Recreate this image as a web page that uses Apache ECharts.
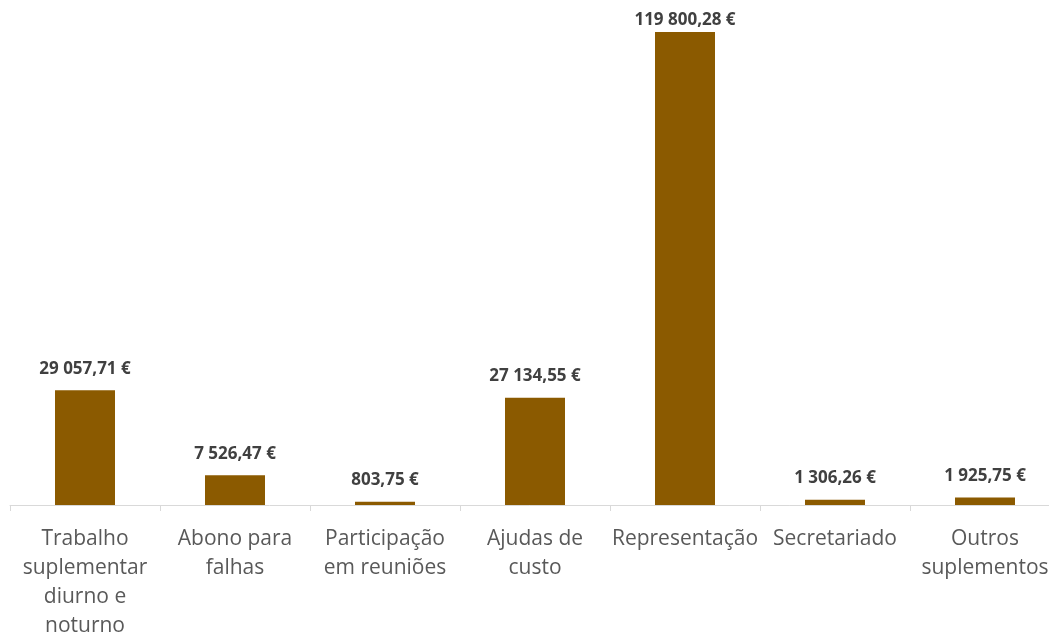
<!DOCTYPE html>
<html>
<head>
<meta charset="utf-8">
<script src="https://cdn.jsdelivr.net/npm/echarts@6/dist/echarts.min.js"></script>
<style>
  html, body { margin: 0; padding: 0; background: #ffffff; }
  #chart { width: 1049px; height: 632px; }
</style>
</head>
<body>
<div id="chart"></div>
<script>
// Despesas por tipo de abono / suplemento (euros)
const categories = [
  'Trabalho\nsuplementar\ndiurno e\nnoturno',
  'Abono para\nfalhas',
  'Participação\nem reuniões',
  'Ajudas de\ncusto',
  'Representação',
  'Secretariado',
  'Outros\nsuplementos'
];
const values = [29057.71, 7526.47, 803.75, 27134.55, 119800.28, 1306.26, 1925.75];

// "119 800,28 €" style formatting
function formatEuro(v) {
  const parts = v.toFixed(2).split('.');
  const intPart = parts[0].replace(/\B(?=(\d{3})+(?!\d))/g, ' ');
  return intPart + ',' + parts[1] + ' €';
}

const maxValue = Math.max(...values);
// the tallest bar keeps its label tucked just above the top edge
const barData = values.map(v => v === maxValue ? { value: v, label: { distance: 3 } } : v);

const chart = echarts.init(document.getElementById('chart'));
chart.setOption({
  animation: false,
  grid: {
    left: 10, top: 32, width: 1050, height: 473,
    containLabel: false,
    outerBoundsMode: 'none'
  },
  xAxis: {
    type: 'category',
    data: categories,
    axisLine: { lineStyle: { color: '#d9d9d9', width: 1 } },
    axisTick: { show: true, length: 6, lineStyle: { color: '#d9d9d9' } },
    axisLabel: {
      interval: 0,
      color: '#595959',
      fontFamily: 'Open Sans',
      fontSize: 21,
      lineHeight: 29,
      margin: 20
    }
  },
  yAxis: {
    type: 'value',
    min: 0,
    max: maxValue,
    show: false,
    splitLine: { show: false }
  },
  series: [{
    type: 'bar',
    data: barData,
    barWidth: 60,
    itemStyle: { color: '#8b5a00' },
    label: {
      show: true,
      position: 'top',
      distance: 13,
      color: '#404040',
      fontFamily: 'Open Sans',
      fontWeight: 'bold',
      fontSize: 17,
      formatter: p => formatEuro(p.value)
    }
  }]
});
</script>
</body>
</html>
